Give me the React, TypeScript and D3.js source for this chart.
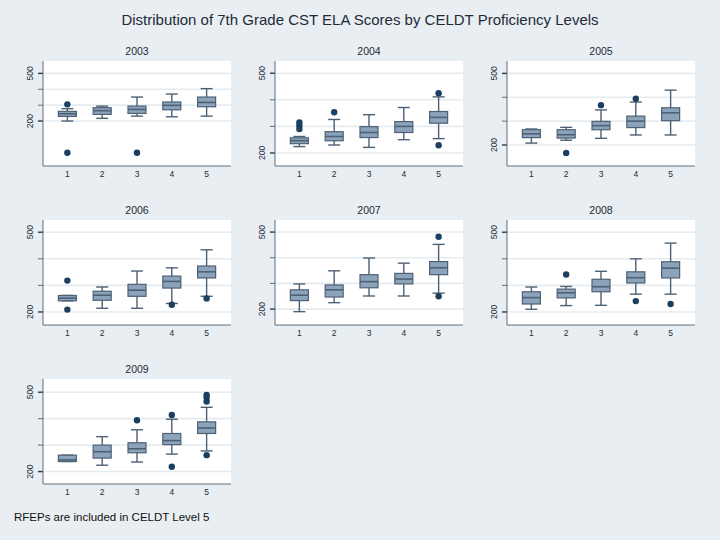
import * as d3 from 'd3';

// CST ELA score distribution per CELDT level, one panel per year
// each box: [whisker low, q1, median, q3, whisker high]
const years = ['2003', '2004', '2005', '2006', '2007', '2008', '2009'];
const levels = ['1', '2', '3', '4', '5'];

const box2003 = [[200, 229, 246, 261, 278], [217, 242, 265, 284, 294], [231, 248, 273, 294, 351], [227, 271, 299, 320, 370], [231, 290, 317, 351, 404]];
const box2004 = [[224, 235, 246, 257, 262], [230, 246, 262, 280, 326], [221, 258, 277, 299, 344], [250, 277, 300, 318, 371], [254, 312, 334, 356, 411]];
const box2005 = [[208, 231, 247, 264, 267], [220, 229, 243, 264, 274], [228, 264, 281, 299, 347], [242, 273, 300, 321, 380], [242, 302, 335, 356, 430]];
const box2006 = [[242, 242, 252, 262, 262], [214, 244, 263, 278, 294], [214, 259, 282, 304, 354], [232, 290, 315, 335, 366], [259, 328, 351, 373, 434]];
const box2007 = [[190, 233, 254, 275, 298], [225, 247, 275, 294, 349], [251, 283, 307, 334, 399], [251, 298, 317, 339, 379], [262, 334, 361, 385, 452]];
const box2008 = [[210, 230, 254, 276, 294], [224, 253, 272, 286, 296], [225, 276, 295, 323, 353], [267, 309, 329, 351, 400], [267, 328, 365, 389, 459]];
const box2009 = [[238, 238, 244, 262, 262], [224, 251, 275, 300, 332], [236, 271, 286, 309, 358], [266, 302, 317, 344, 398], [278, 344, 365, 388, 443]];

const out2003 = [[305, 0], [], [0], [], []];
const out2004 = [[315, 303, 290], [353], [], [], [425, 229]];
const out2005 = [[], [167], [367], [394], []];
const out2006 = [[318, 209], [], [], [227], [251]];
const out2007 = [[], [], [], [], [482, 250]];
const out2008 = [[], [341], [], [241], [230]];
const out2009 = [[], [], [394], [414, 218], [490, 480, 465, 262]];

// y range shown in each panel (Stata scales every panel by itself)
const yDomains = [[-83, 578], [151, 546], [112, 552], [151, 546], [138, 547], [151, 546], [153, 550]];
const yGrid = [200, 300, 400, 500];
const yLabels = [200, 500];

const boxes = [box2003, box2004, box2005, box2006, box2007, box2008, box2009];
const outliers = [out2003, out2004, out2005, out2006, out2007, out2008, out2009];

const W = 720;
const H = 540;
const colX = [43, 275, 507];
const rowY = [61, 220, 379];
const pw = 188;
const ph = 105;

const font = '"Liberation Sans", Arial, sans-serif';
const bg = '#e8eef2';
const ink = '#1f2b37';
const boxFill = '#8ca3bc';
const boxLine = '#4d6074';
const dotColor = '#1c3f60';
const axisColor = '#5d6d7d';

function Panel({ idx }: { idx: number }) {
  const x0 = colX[idx % 3];
  const y0 = rowY[Math.floor(idx / 3)];
  const x = d3.scalePoint<string>().domain(levels).range([0, pw]).padding(0.7);
  const y = d3.scaleLinear().domain(yDomains[idx]).range([ph, 0]);
  const bw = 18;
  const cap = 12;

  return (
    <g transform={`translate(${x0},${y0})`}>
      <text x={pw / 2} y={-6} textAnchor="middle" fontSize={10.5} fill={ink} fontFamily={font}>
        {years[idx]}
      </text>
      <rect width={pw} height={ph} fill="#ffffff" />
      {yGrid.map((v) => (
        <line key={v} x1={0} x2={pw} y1={y(v)} y2={y(v)} stroke="#e4ecf0" strokeWidth={1.6} />
      ))}
      {yGrid.map((v) => (
        <line
          key={'t' + v}
          x1={-5}
          x2={0}
          y1={y(v)}
          y2={y(v)}
          stroke={yLabels.includes(v) ? '#2c3a48' : axisColor}
          strokeWidth={yLabels.includes(v) ? 1.4 : 1}
        />
      ))}
      {yLabels.map((v) => (
        <text
          key={'l' + v}
          transform={`translate(${-10},${y(v)}) rotate(-90)`}
          textAnchor="middle"
          fontSize={8.5}
          fill={ink}
          fontFamily={font}
        >
          {v}
        </text>
      ))}
      <line x1={0} x2={0} y1={0} y2={ph} stroke={axisColor} strokeWidth={1} />
      <line x1={0} x2={pw} y1={ph} y2={ph} stroke={axisColor} strokeWidth={1} />
      {levels.map((lv, i) => {
        const [lo, q1, med, q3, hi] = boxes[idx][i];
        const cx = x(lv) as number;
        return (
          <g key={lv}>
            <line x1={cx} x2={cx} y1={y(hi)} y2={y(q3)} stroke={boxLine} strokeWidth={1.4} />
            <line x1={cx} x2={cx} y1={y(q1)} y2={y(lo)} stroke={boxLine} strokeWidth={1.4} />
            <line x1={cx - cap / 2} x2={cx + cap / 2} y1={y(hi)} y2={y(hi)} stroke={boxLine} strokeWidth={1.4} />
            <line x1={cx - cap / 2} x2={cx + cap / 2} y1={y(lo)} y2={y(lo)} stroke={boxLine} strokeWidth={1.4} />
            <rect
              x={cx - bw / 2}
              y={y(q3)}
              width={bw}
              height={Math.max(0.5, y(q1) - y(q3))}
              fill={boxFill}
              stroke={boxLine}
              strokeWidth={1.2}
            />
            <line x1={cx - bw / 2} x2={cx + bw / 2} y1={y(med)} y2={y(med)} stroke={boxLine} strokeWidth={1.6} />
            {outliers[idx][i].map((v, k) => (
              <circle key={k} cx={cx} cy={y(v)} r={3.2} fill={dotColor} />
            ))}
            <text x={cx} y={ph + 11} textAnchor="middle" fontSize={8.5} fill={ink} fontFamily={font}>
              {lv}
            </text>
          </g>
        );
      })}
    </g>
  );
}

export default function App() {
  return (
    <div style={{ position: 'fixed', left: 0, top: 0 }}>
      <svg width={W} height={H} style={{ display: 'block' }}>
        <rect width={W} height={H} fill={bg} />
        <text x={360} y={25} textAnchor="middle" fontSize={15} fill={ink} fontFamily={font}>
          Distribution of 7th Grade CST ELA Scores by CELDT Proficiency Levels
        </text>
        {years.map((yr, i) => (
          <Panel key={yr} idx={i} />
        ))}
        <text x={14} y={521} fontSize={11.5} fill="#111" fontFamily={font}>
          RFEPs are included in CELDT Level 5
        </text>
      </svg>
    </div>
  );
}
